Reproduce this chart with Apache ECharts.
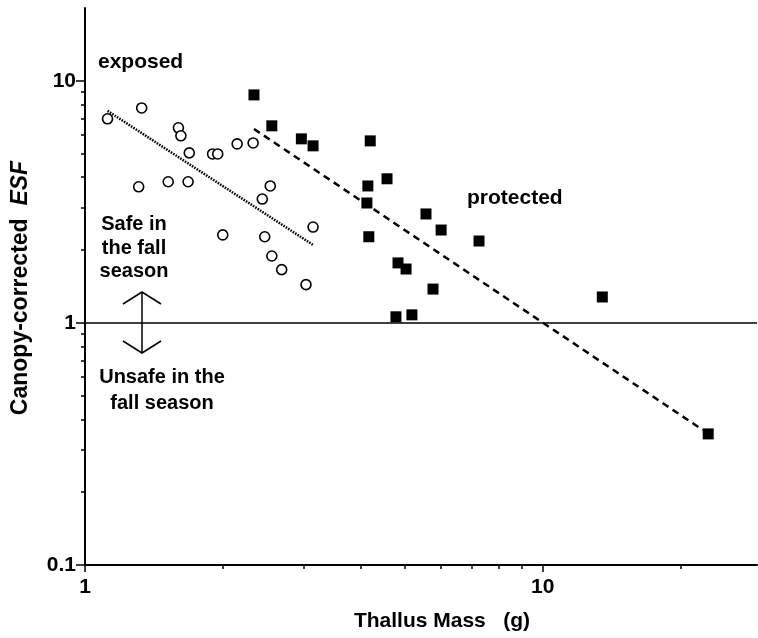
<!DOCTYPE html>
<html>
<head>
<meta charset="utf-8">
<script src="https://cdn.jsdelivr.net/npm/echarts@6/dist/echarts.min.js"></script>
<style>
  html, body { margin: 0; padding: 0; background: #fff; }
  #chart { width: 758px; height: 638px; }
</style>
</head>
<body>
<div id="chart"></div>
<script>
// exposed thalli (open circles)
var exposedMass = [1.12, 1.33, 1.60, 1.62, 1.69, 1.90, 1.95, 2.15, 2.33, 1.31, 1.52, 1.68, 2.54, 2.44, 3.15, 2.00, 2.47, 2.56, 2.69, 3.04];
var exposedEsf  = [6.97, 7.73, 6.40, 5.93, 5.04, 4.99, 4.99, 5.49, 5.54, 3.65, 3.83, 3.83, 3.68, 3.25, 2.49, 2.31, 2.27, 1.89, 1.66, 1.44];

// protected thalli (filled squares)
var protectedMass = [2.34, 2.56, 2.97, 3.15, 4.20, 4.15, 4.13, 4.17, 4.57, 5.56, 6.00, 7.26, 4.83, 5.03, 5.76, 4.78, 5.18, 13.5, 23.0];
var protectedEsf  = [8.75, 6.52, 5.76, 5.39, 5.65, 3.68, 3.13, 2.27, 3.94, 2.82, 2.42, 2.18, 1.77, 1.67, 1.38, 1.06, 1.08, 1.28, 0.348];

// fitted lines, end points
var exposedFitMass = [1.12, 3.15];
var exposedFitEsf  = [7.52, 2.10];
var protectedFitMass = [2.34, 22.4];
var protectedFitEsf  = [6.33, 0.361];

// ticks
var xMajorTicks = [1, 10];
var xMinorTicks = [2, 3, 4, 5, 6, 7, 8, 9, 20];
var yMajorTicks = [0.1, 1, 10];
var yMinorTicks = [0.2, 0.3, 0.4, 0.5, 0.6, 0.7, 0.8, 0.9, 2, 3, 4, 5, 6, 7, 8, 9];

function pairs(xs, ys) {
    var out = [];
    for (var i = 0; i < xs.length; i++) {
        out.push([xs[i], ys[i]]);
    }
    return out;
}

var font = '"Liberation Sans", Arial, Helvetica, sans-serif';
var black = '#000';

var myChart = echarts.init(document.getElementById('chart'), null, {renderer: 'canvas'});

var option = {
    backgroundColor: '#fff',
    animation: false,
    grid: {
        left: 85,
        top: 8,
        right: 1,
        bottom: 73,
        containLabel: false
    },
    xAxis: [
        {
            type: 'log',
            logBase: 10,
            min: 1,
            max: 29.4,
            position: 'bottom',
            axisLine: {lineStyle: {color: black, width: 2}},
            axisTick: {customValues: xMajorTicks, length: 7, lineStyle: {color: black, width: 1.5}},
            axisLabel: {customValues: xMajorTicks, margin: 12, color: black, fontFamily: font, fontWeight: 'bold', fontSize: 21},
            splitLine: {show: false}
        },
        {
            type: 'log',
            logBase: 10,
            min: 1,
            max: 29.4,
            position: 'bottom',
            axisLine: {show: false},
            axisTick: {customValues: xMinorTicks, length: 4, lineStyle: {color: black, width: 1.5}},
            axisLabel: {show: false},
            splitLine: {show: false}
        }
    ],
    yAxis: [
        {
            type: 'log',
            logBase: 10,
            min: 0.1,
            max: 20,
            position: 'left',
            axisLine: {lineStyle: {color: black, width: 2}},
            axisTick: {customValues: yMajorTicks, length: 9, lineStyle: {color: black, width: 1.5}},
            axisLabel: {customValues: yMajorTicks, margin: 9, color: black, fontFamily: font, fontWeight: 'bold', fontSize: 21},
            splitLine: {show: false}
        },
        {
            type: 'log',
            logBase: 10,
            min: 0.1,
            max: 20,
            position: 'left',
            axisLine: {show: false},
            axisTick: {customValues: yMinorTicks, length: 4, lineStyle: {color: black, width: 1.5}},
            axisLabel: {show: false},
            splitLine: {show: false}
        }
    ],
    series: [
        {
            name: 'exposed fit',
            type: 'line',
            data: pairs(exposedFitMass, exposedFitEsf),
            symbol: 'none',
            lineStyle: {color: black, width: 2.5, type: [1.6, 1.2]},
            z: 2
        },
        {
            name: 'protected fit',
            type: 'line',
            data: pairs(protectedFitMass, protectedFitEsf),
            symbol: 'none',
            lineStyle: {color: black, width: 2.5, type: [7, 5]},
            markLine: {
                silent: true,
                symbol: 'none',
                label: {show: false},
                lineStyle: {color: black, width: 1.5, type: 'solid'},
                data: [{yAxis: 1}]
            },
            z: 2
        },
        {
            name: 'exposed',
            type: 'scatter',
            data: pairs(exposedMass, exposedEsf),
            symbol: 'circle',
            symbolSize: 10,
            itemStyle: {color: '#fff', borderColor: black, borderWidth: 1.6, opacity: 1},
            z: 3
        },
        {
            name: 'protected',
            type: 'scatter',
            data: pairs(protectedMass, protectedEsf),
            symbol: 'rect',
            symbolSize: 11,
            itemStyle: {color: black, opacity: 1},
            z: 3
        }
    ],
    graphic: [
        {type: 'text', x: 98, y: 62, style: {text: 'exposed', fill: black, font: 'bold 21px ' + font, verticalAlign: 'middle'}},
        {type: 'text', x: 467, y: 198, style: {text: 'protected', fill: black, font: 'bold 21px ' + font, verticalAlign: 'middle'}},
        {type: 'text', x: 134, y: 213, style: {text: 'Safe in\nthe fall\nseason', fill: black, font: 'bold 20px ' + font, lineHeight: 23.5, align: 'center', verticalAlign: 'top'}},
        {type: 'text', x: 162, y: 364, style: {text: 'Unsafe in the\nfall season', fill: black, font: 'bold 20px ' + font, lineHeight: 26, align: 'center', verticalAlign: 'top'}},
        {type: 'line', shape: {x1: 142, y1: 292, x2: 142, y2: 353}, style: {stroke: black, lineWidth: 1.5}},
        {type: 'polyline', shape: {points: [[123, 304], [142, 292], [161, 304]]}, style: {stroke: black, lineWidth: 1.5, fill: null}},
        {type: 'polyline', shape: {points: [[123, 341], [142, 353], [161, 341]]}, style: {stroke: black, lineWidth: 1.5, fill: null}},
        {type: 'text', x: 442, y: 621, style: {text: 'Thallus Mass   (g)', fill: black, font: 'bold 21px ' + font, align: 'center', verticalAlign: 'middle'}},
        {
            type: 'text', x: 21, y: 288, rotation: Math.PI / 2,
            style: {
                text: '{n|Canopy-corrected  }{i|ESF}',
                fill: black, align: 'center', verticalAlign: 'middle',
                rich: {
                    n: {fontFamily: font, fontWeight: 'bold', fontSize: 23, fill: black},
                    i: {fontFamily: font, fontWeight: 'bold', fontStyle: 'italic', fontSize: 23, fill: black}
                }
            }
        }
    ]
};

myChart.setOption(option);
</script>
</body>
</html>
